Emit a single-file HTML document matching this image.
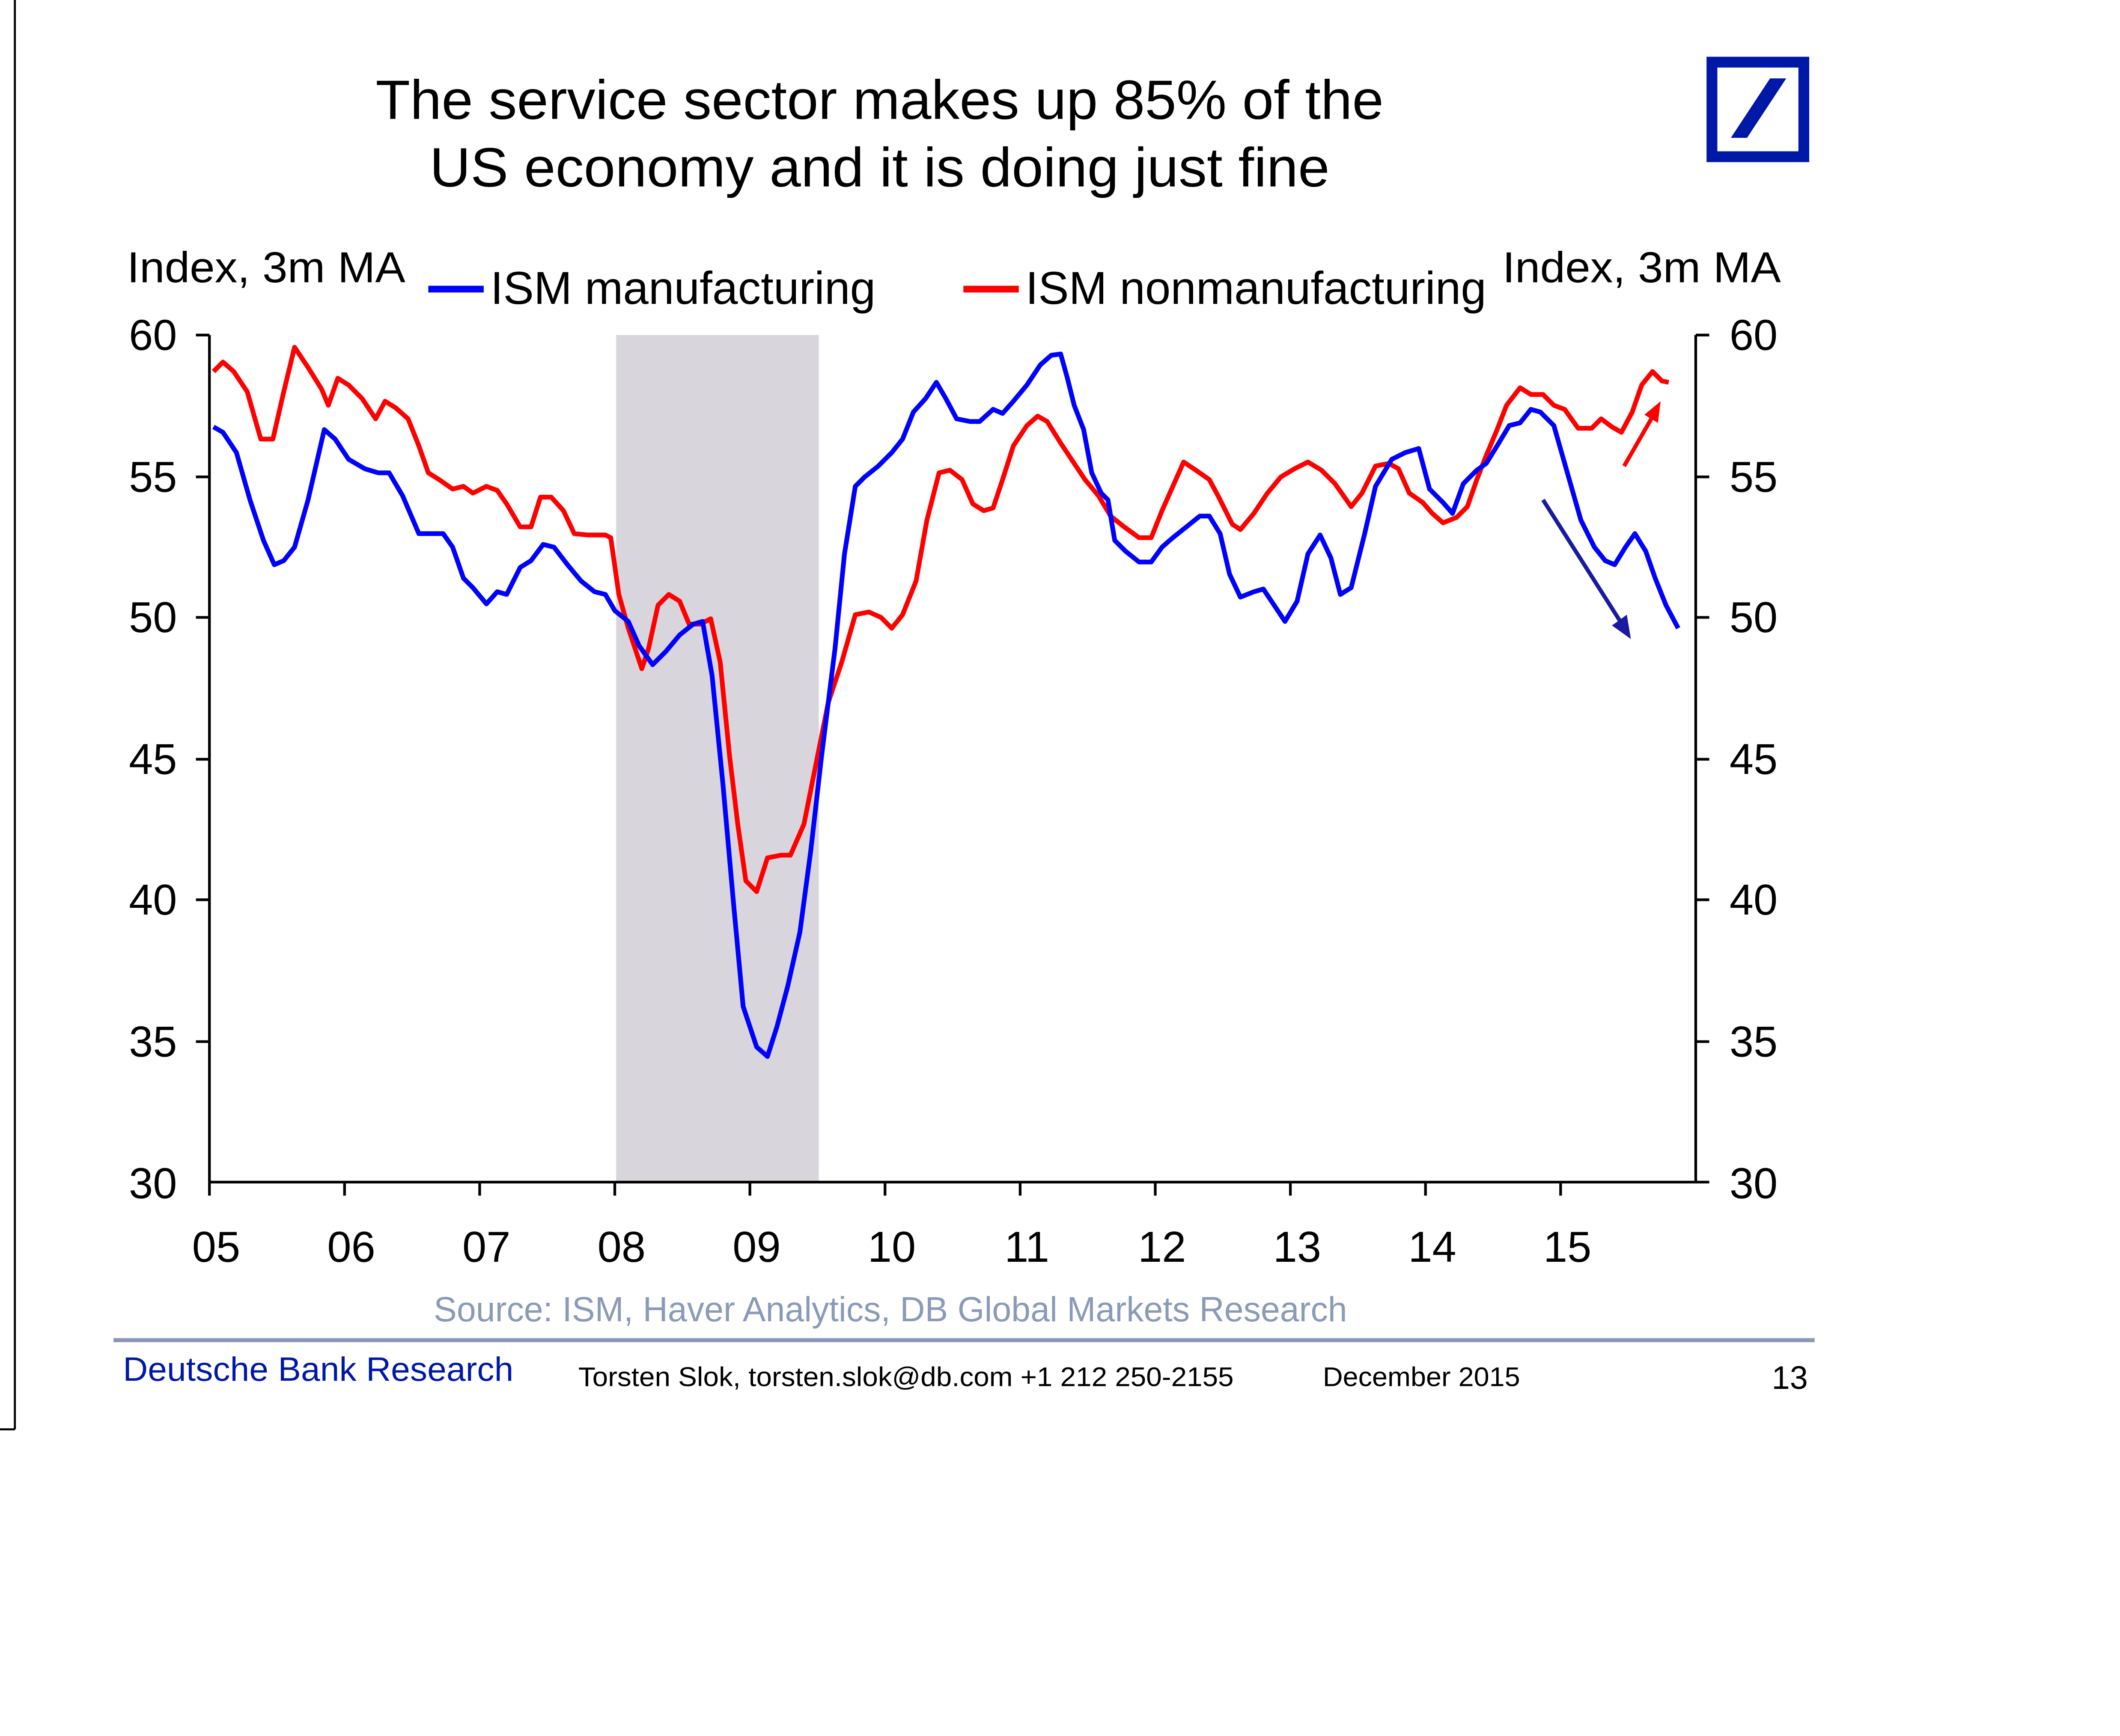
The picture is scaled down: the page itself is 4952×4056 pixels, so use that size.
<!DOCTYPE html>
<html><head><meta charset="utf-8"><style>
html,body{margin:0;padding:0;background:#fff;}
svg{display:block;}
text{font-family:"Liberation Sans",Arial,sans-serif;}
</style></head><body>
<svg width="4952" height="4056" viewBox="0 0 1569 1285" preserveAspectRatio="none" xmlns="http://www.w3.org/2000/svg">
<rect width="1569" height="1285" fill="#fff"/>
<line x1="11" y1="0" x2="11" y2="1058" stroke="#000" stroke-width="1.5"/>
<line x1="0" y1="1058" x2="11" y2="1058" stroke="#000" stroke-width="1.5"/>
<text x="651" y="88" font-size="41" text-anchor="middle" textLength="746" lengthAdjust="spacingAndGlyphs">The service sector makes up 85% of the</text>
<text x="651" y="138" font-size="41" text-anchor="middle" textLength="666" lengthAdjust="spacingAndGlyphs">US economy and it is doing just fine</text>
<rect x="1267" y="46" width="68" height="70" fill="none" stroke="#0018a8" stroke-width="8"/>
<polygon points="1281,102 1293,102 1322,58 1310,58" fill="#0018a8"/>
<text x="94" y="209" font-size="32" textLength="206" lengthAdjust="spacingAndGlyphs">Index, 3m MA</text>
<text x="1112" y="209" font-size="32" textLength="206" lengthAdjust="spacingAndGlyphs">Index, 3m MA</text>
<line x1="317" y1="214" x2="358" y2="214" stroke="#0000ff" stroke-width="5"/>
<text x="363" y="225" font-size="34" textLength="285" lengthAdjust="spacingAndGlyphs">ISM manufacturing</text>
<line x1="713" y1="214" x2="754" y2="214" stroke="#ff0000" stroke-width="5"/>
<text x="759" y="225" font-size="34" textLength="341" lengthAdjust="spacingAndGlyphs">ISM nonmanufacturing</text>
<rect x="456" y="248" width="150" height="627" fill="#d8d6dc"/>
<g stroke="#000" stroke-width="2">
<line x1="155" y1="248" x2="155" y2="875"/>
<line x1="1255" y1="248" x2="1255" y2="875"/>
<line x1="155" y1="875" x2="1255" y2="875"/>
<line x1="145" y1="248" x2="155" y2="248"/><line x1="145" y1="353" x2="155" y2="353"/><line x1="145" y1="457" x2="155" y2="457"/><line x1="145" y1="562" x2="155" y2="562"/><line x1="145" y1="666" x2="155" y2="666"/><line x1="145" y1="771" x2="155" y2="771"/>
<line x1="1255" y1="248" x2="1265" y2="248"/><line x1="1255" y1="353" x2="1265" y2="353"/><line x1="1255" y1="457" x2="1265" y2="457"/><line x1="1255" y1="562" x2="1265" y2="562"/><line x1="1255" y1="666" x2="1265" y2="666"/><line x1="1255" y1="771" x2="1265" y2="771"/><line x1="1255" y1="875" x2="1265" y2="875"/>
<line x1="155" y1="875" x2="155" y2="885"/><line x1="255" y1="875" x2="255" y2="885"/><line x1="355" y1="875" x2="355" y2="885"/><line x1="455" y1="875" x2="455" y2="885"/><line x1="555" y1="875" x2="555" y2="885"/><line x1="655" y1="875" x2="655" y2="885"/><line x1="755" y1="875" x2="755" y2="885"/><line x1="855" y1="875" x2="855" y2="885"/><line x1="955" y1="875" x2="955" y2="885"/><line x1="1055" y1="875" x2="1055" y2="885"/><line x1="1155" y1="875" x2="1155" y2="885"/>
</g>
<g font-size="32" text-anchor="end">
<text x="131" y="259">60</text><text x="131" y="364">55</text><text x="131" y="468">50</text><text x="131" y="573">45</text><text x="131" y="677">40</text><text x="131" y="782">35</text><text x="131" y="887">30</text>
</g>
<g font-size="32">
<text x="1280" y="259">60</text><text x="1280" y="364">55</text><text x="1280" y="468">50</text><text x="1280" y="573">45</text><text x="1280" y="677">40</text><text x="1280" y="782">35</text><text x="1280" y="887">30</text>
</g>
<g font-size="32" text-anchor="middle">
<text x="160" y="934">05</text><text x="260" y="934">06</text><text x="360" y="934">07</text><text x="460" y="934">08</text><text x="560" y="934">09</text><text x="660" y="934">10</text><text x="760" y="934">11</text><text x="860" y="934">12</text><text x="960" y="934">13</text><text x="1060" y="934">14</text><text x="1160" y="934">15</text>
</g>
<polyline fill="none" stroke="#ff0000" stroke-width="3.5" stroke-linejoin="round" points="158,275 165,268 173,275 183,290 193,325 202,325 210,290 218,257 228,272 238,288 243,300 250,280 258,285 268,295 278,310 285,297 293,302 302,310 310,330 317,350 325,355 335,362 343,360 350,365 360,360 368,363 375,373 385,390 393,390 400,368 408,368 417,378 425,395 435,396 448,396 452,398 458,440 465,465 475,495 480,480 487,448 495,440 503,445 510,462 518,462 526,458 533,490 540,560 546,610 552,652 560,660 568,635 578,633 585,633 595,610 603,570 613,520 623,490 633,455 643,453 652,457 660,465 668,455 678,430 686,385 695,350 703,348 712,355 720,373 728,378 735,376 742,355 750,330 760,315 768,308 775,312 785,328 793,340 803,355 813,367 822,382 832,390 843,398 852,398 860,378 868,360 876,342 885,348 895,355 902,368 912,388 918,392 928,380 938,365 948,353 958,347 968,342 978,348 988,358 1000,375 1008,365 1018,345 1028,343 1035,347 1043,365 1053,372 1060,380 1068,387 1078,383 1086,375 1093,355 1100,337 1108,318 1115,300 1125,287 1133,292 1142,292 1150,300 1158,303 1168,317 1178,317 1185,310 1193,316 1200,320 1208,305 1215,285 1223,275 1230,282 1235,283"/>
<polyline fill="none" stroke="#0000ff" stroke-width="3.5" stroke-linejoin="round" points="158,316 165,320 175,335 185,370 195,400 203,418 210,415 218,405 228,370 240,318 248,325 258,340 270,347 280,350 288,350 298,367 310,395 320,395 328,395 335,405 343,428 350,435 360,447 368,438 375,440 385,420 393,415 402,403 410,405 420,418 430,430 440,438 448,440 455,452 465,460 473,478 483,492 493,482 503,470 513,462 520,460 527,500 535,580 543,670 550,745 560,775 568,782 575,760 583,730 592,690 600,630 608,560 618,480 625,410 633,360 640,353 650,345 660,335 668,325 676,305 685,295 693,283 700,295 708,310 718,312 725,312 735,303 742,306 750,297 760,285 770,270 778,263 785,262 790,280 795,300 802,318 808,350 815,365 820,370 825,400 833,408 843,416 852,416 860,405 868,398 878,390 888,382 895,382 903,395 910,425 918,442 928,438 935,436 943,448 951,460 960,445 968,410 977,396 985,413 992,440 1000,435 1010,395 1018,360 1030,340 1040,335 1050,332 1058,362 1068,372 1075,380 1083,358 1093,348 1100,343 1108,330 1117,315 1125,313 1133,303 1140,305 1150,315 1160,350 1170,385 1180,405 1188,415 1195,418 1203,405 1210,395 1218,408 1225,428 1233,448 1242,465"/>
<line x1="1142" y1="370" x2="1203" y2="466" stroke="#1a1aa0" stroke-width="3"/>
<polygon points="1207,473 1193,463 1204,455" fill="#1a1aa0"/>
<line x1="1202" y1="345" x2="1225" y2="305" stroke="#ff0000" stroke-width="3"/>
<polygon points="1229,297 1227,313 1217,307" fill="#ff0000"/>
<text x="659" y="978" font-size="26" fill="#8a9ab8" text-anchor="middle" textLength="676" lengthAdjust="spacingAndGlyphs">Source: ISM, Haver Analytics, DB Global Markets Research</text>
<line x1="84" y1="992" x2="1343" y2="992" stroke="#8a98b8" stroke-width="3"/>
<text x="91" y="1022" font-size="25" fill="#0018a8" textLength="289" lengthAdjust="spacingAndGlyphs">Deutsche Bank Research</text>
<text x="428" y="1026" font-size="20" textLength="485" lengthAdjust="spacingAndGlyphs">Torsten Slok, torsten.slok@db.com  +1 212 250-2155</text>
<text x="979" y="1026" font-size="20" textLength="146" lengthAdjust="spacingAndGlyphs">December 2015</text>
<text x="1338" y="1028" font-size="24" text-anchor="end">13</text>
</svg>
</body></html>
